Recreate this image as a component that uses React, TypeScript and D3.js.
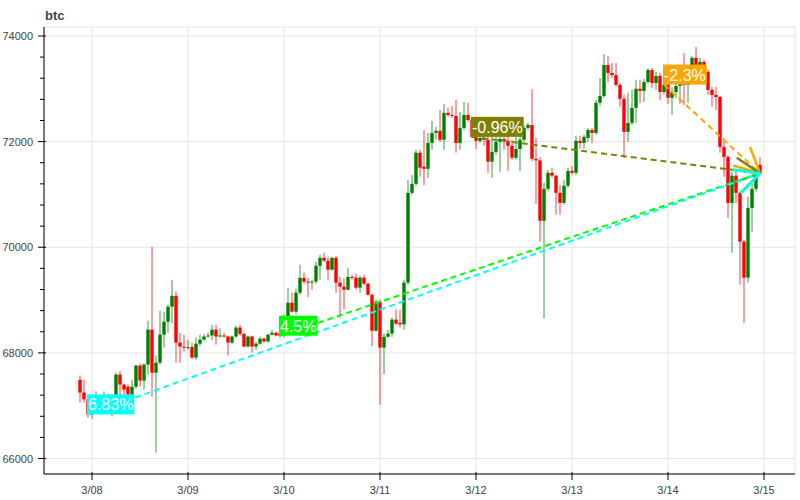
import React, { useEffect, useRef } from 'react';
import * as d3 from 'd3';

const title = 'btc';
const START = Date.UTC(2024, 2, 7, 21);
const HOUR = 3600000;

const opens = [
  67490, 67250, 67120, 66835, 66930, 67020, 66970, 67150, 67190, 67150,
  67590, 67400, 67360, 67210, 67360, 67760, 67475, 67780, 68440, 67625,
  67815, 68345, 68590, 68875, 69080, 68195, 68120, 68100, 68110, 67910,
  68175, 68250, 68310, 68330, 68440, 68310, 68330, 68310, 68195, 68310,
  68480, 68360, 68120, 68310, 68120, 68175, 68270, 68215, 68345, 68380,
  68380, 68325, 68685, 68950, 68780, 69140, 69420, 69350, 69330, 69350,
  69650, 69800, 69745, 69575, 69800, 69330, 69255, 69195, 69440, 69425,
  69235, 69425, 69310, 69100, 68420, 68970, 68100, 68305, 68365, 68630,
  68570, 68540, 69330, 71030, 71200, 71790, 71525, 71485, 71975, 72165,
  72205, 72035, 72545, 72505, 72485, 71975, 72260, 72505, 72410, 72090,
  72015, 72070, 72035, 71620, 71805, 71995, 72050, 72015, 71920, 71695,
  71860, 72035, 72260, 72315, 71675, 71645, 70500, 71105, 71410, 71355,
  71030, 70840, 71165, 71445, 71410, 72015, 71975, 72070, 72220, 72165,
  72735, 72865, 73450, 73300, 73260, 73075, 72810, 72185, 72355, 72640,
  73000, 72960, 73130, 73355, 73110, 73245, 72940, 73080, 72830, 72940,
  73055, 73130, 73075, 73260, 73585, 73450, 73510, 73320, 72980, 72885,
  72845, 71900, 71710, 70840, 71355, 71030, 70105, 69425, 70745, 71105,
  71560,
];

const highs = [
  67570, 67490, 67150, 67120, 67270, 67150, 67270, 67230, 67210, 67630,
  67650, 67420, 67400, 67490, 67770, 67800, 67800, 68610, 70010, 67950,
  68800, 68780, 68910, 69385, 69160, 68380, 68345, 68250, 68190, 68290,
  68345, 68360, 68380, 68535, 68535, 68460, 68380, 68330, 68330, 68515,
  68535, 68380, 68330, 68330, 68215, 68310, 68290, 68360, 68440, 68400,
  68420, 68725, 69235, 69140, 69215, 69670, 69520, 69420, 69385, 69725,
  69860, 69895, 69820, 69820, 69840, 69440, 69420, 69610, 69480, 69500,
  69460, 69480, 69330, 69120, 69005, 69005, 68365, 68440, 68665, 68820,
  68820, 69385, 71275, 71370, 71845, 71845, 72220, 72165, 72390, 72280,
  72600, 72715, 72640, 72680, 72790, 72560, 72750, 72735, 72470, 72220,
  72185, 72165, 72130, 72110, 72110, 72110, 72145, 72110, 72035, 72130,
  72185, 72300, 72355, 72995, 72070, 71710, 71220, 71465, 71505, 71370,
  71180, 71275, 71505, 71540, 72110, 72110, 72130, 72260, 72260, 72790,
  73205, 73660, 73620, 73490, 73490, 73110, 72885, 72925, 72980, 73170,
  73170, 73185, 73395, 73395, 73320, 73300, 73170, 73110, 73035, 73090,
  73205, 73680, 73355, 73620, 73790, 73585, 73545, 73355, 73035, 73035,
  72865, 72070, 71750, 71430, 71430, 71050, 70140, 70955, 71275, 71465,
  71710,
];

const lows = [
  67060, 67060, 66775, 66755, 66850, 66870, 66890, 66930, 66795, 67140,
  67135, 67120, 67130, 67190, 67320, 67360, 67305, 67590, 67170, 66115,
  67780, 68100, 68380, 68570, 67815, 67815, 68020, 68060, 67890, 67870,
  68135, 68230, 68290, 68250, 68155, 68290, 68290, 67950, 68175, 68290,
  68330, 68110, 68100, 68005, 68060, 68155, 68195, 68195, 68330, 68310,
  68290, 68290, 68650, 68760, 68740, 69100, 69310, 69060, 69195, 69310,
  69385, 69725, 69385, 69555, 69140, 68665, 68820, 69180, 69385, 69195,
  69140, 69290, 69085, 68120, 68400, 67020, 67590, 68290, 68305, 68535,
  68480, 68440, 69290, 70990, 71165, 71335, 71180, 71315, 71845, 72035,
  71995, 71845, 72470, 72450, 71790, 71845, 72220, 72375, 72070, 71860,
  71975, 71920, 71410, 71315, 71750, 71430, 71845, 71445, 71655, 71655,
  71445, 71995, 72220, 71635, 70825, 70105, 68650, 71070, 71315, 70615,
  70615, 70805, 71125, 71370, 71370, 71860, 71860, 71995, 71975, 72130,
  72680, 72830, 73130, 73205, 73035, 72660, 71695, 71995, 72315, 72355,
  72735, 72750, 73095, 73015, 72980, 72790, 72885, 72715, 72505, 72830,
  72715, 72695, 72735, 73170, 73395, 73355, 73245, 72885, 72660, 72600,
  71790, 71335, 70560, 69895, 70840, 69290, 68570, 69330, 70295, 71050,
  71370,
];

const closes = [
  67250, 67120, 66835, 66930, 67020, 66970, 67150, 67190, 67150, 67590,
  67400, 67305, 67210, 67360, 67760, 67475, 67780, 68440, 67625, 67815,
  68345, 68590, 68875, 69080, 68195, 68120, 68100, 68110, 67910, 68175,
  68250, 68310, 68330, 68440, 68310, 68330, 68310, 68195, 68310, 68480,
  68360, 68120, 68310, 68120, 68175, 68270, 68215, 68345, 68380, 68330,
  68325, 68685, 68950, 68780, 69140, 69420, 69350, 69330, 69350, 69650,
  69800, 69745, 69575, 69800, 69330, 69255, 69195, 69440, 69425, 69235,
  69425, 69310, 69100, 68420, 68970, 68100, 68305, 68365, 68630, 68555,
  68540, 69330, 71030, 71200, 71790, 71505, 71485, 71975, 72165, 72205,
  72035, 72545, 72505, 72485, 71975, 72260, 72505, 72410, 72090, 72015,
  72070, 72035, 71620, 71805, 71995, 72050, 72015, 71920, 71695, 71860,
  72035, 72260, 72315, 71675, 71645, 70500, 71105, 71410, 71355, 71030,
  70840, 71165, 71445, 71410, 72015, 71975, 72090, 72220, 72165, 72735,
  72865, 73450, 73300, 73260, 73075, 72810, 72185, 72355, 72640, 73000,
  72960, 73130, 73355, 73110, 73245, 72940, 73080, 72830, 72940, 73055,
  73130, 73075, 73260, 73585, 73450, 73510, 73320, 72980, 72885, 72845,
  71900, 71710, 70840, 71355, 71030, 70105, 69425, 70745, 71105, 71390,
  71400,
];

// change markers (hour index of the reference candle), drawn in this order
const markIdx = [146, 98, 50, 2];
const markLabels = ['-2.3%', '-0.96%', '4.5%', '6.83%'];
const markColors = ['#ffa500', '#808000', '#00ff00', '#00ffff'];

const yTicks = [66000, 68000, 70000, 72000, 74000];

const FONT = '"Liberation Sans", Arial, Helvetica, sans-serif';

export default function App() {
  const ref = useRef<SVGSVGElement>(null);

  useEffect(() => {
    document.body.style.margin = '0';
    const svg = d3.select(ref.current as SVGSVGElement);
    svg.selectAll('*').remove();

    const L = 44, R = 795, T = 27, B = 474;
    const x = d3
      .scaleUtc()
      .domain([Date.UTC(2024, 2, 7, 12), Date.UTC(2024, 2, 15, 7, 45)])
      .range([L, R]);
    const y = d3.scaleLinear().domain([65707, 74170]).range([B, T]);

    const times = closes.map((_, i) => new Date(START + i * HOUR));
    const dayTicks = d3.utcDay.range(new Date(Date.UTC(2024, 2, 8)), new Date(Date.UTC(2024, 2, 15, 1)));
    const fmt = d3.utcFormat('%-m/%d');

    // grid
    const grid = svg.append('g');
    grid
      .selectAll('line.v')
      .data(dayTicks)
      .join('line')
      .attr('x1', (d) => x(d))
      .attr('x2', (d) => x(d))
      .attr('y1', T)
      .attr('y2', B)
      .attr('stroke', '#e5e5e5')
      .attr('stroke-width', 1);
    grid
      .selectAll('line.h')
      .data(yTicks)
      .join('line')
      .attr('x1', L)
      .attr('x2', R)
      .attr('y1', (d) => y(d))
      .attr('y2', (d) => y(d))
      .attr('stroke', '#e5e5e5')
      .attr('stroke-width', 1);

    svg
      .append('rect')
      .attr('x', L)
      .attr('y', T)
      .attr('width', R - L)
      .attr('height', B - T)
      .attr('fill', 'none')
      .attr('stroke', '#e5e5e5');

    // candles
    svg
      .append('clipPath')
      .attr('id', 'plotclip')
      .append('rect')
      .attr('x', L)
      .attr('y', T)
      .attr('width', R - L)
      .attr('height', B - T);
    const cg = svg.append('g').attr('clip-path', 'url(#plotclip)');
    const idx = d3.range(closes.length);
    const col = (i: number) => (closes[i] >= opens[i] ? '#008000' : '#ff0000');
    cg.selectAll('line.wick')
      .data(idx)
      .join('line')
      .attr('x1', (i) => x(times[i]))
      .attr('x2', (i) => x(times[i]))
      .attr('y1', (i) => y(highs[i]))
      .attr('y2', (i) => y(lows[i]))
      .attr('stroke', (i) => col(i))
      .attr('stroke-opacity', 0.55)
      .attr('stroke-width', 1.4);
    const bw = 3.4;
    cg.selectAll('rect.body')
      .data(idx)
      .join('rect')
      .attr('x', (i) => x(times[i]) - bw / 2)
      .attr('width', bw)
      .attr('y', (i) => y(Math.max(opens[i], closes[i])))
      .attr('height', (i) => Math.max(1, Math.abs(y(opens[i]) - y(closes[i]))))
      .attr('fill', (i) => col(i));

    // arrows
    const last = closes.length - 1;
    const tx = x(times[last]);
    const ty = y(closes[last]);
    const ag = svg.append('g');
    const headLen = 25 * Math.sqrt(1.25);
    const phi = Math.atan(0.5);
    markIdx.forEach((mi, k) => {
      const sx = x(times[mi]);
      const sy = y(closes[mi]);
      ag.append('line')
        .attr('x1', sx)
        .attr('y1', sy)
        .attr('x2', tx)
        .attr('y2', ty)
        .attr('stroke', markColors[k])
        .attr('stroke-width', 2)
        .attr('stroke-dasharray', '6,4');
      const back = Math.atan2(sy - ty, sx - tx);
      [-phi, phi].forEach((p) => {
        ag.append('line')
          .attr('x1', tx)
          .attr('y1', ty)
          .attr('x2', tx + headLen * Math.cos(back + p))
          .attr('y2', ty + headLen * Math.sin(back + p))
          .attr('stroke', markColors[k])
          .attr('stroke-width', 2.5);
      });
    });

    // labels
    const lg = svg.append('g');
    markIdx.forEach((mi, k) => {
      const sx = x(times[mi]);
      const sy = y(closes[mi]);
      const g = lg.append('g');
      const rect = g.append('rect').attr('fill', markColors[k]);
      const t = g
        .append('text')
        .attr('x', sx)
        .attr('y', sy - 4)
        .attr('font-family', FONT)
        .attr('font-size', 16)
        .attr('fill', '#ffffff')
        .text(markLabels[k]);
      const bb = (t.node() as SVGTextElement).getBBox();
      rect
        .attr('x', bb.x - 1)
        .attr('y', sy - 20)
        .attr('width', bb.width + 2)
        .attr('height', 20);
    });

    // axes
    const ax = svg.append('g').attr('font-family', FONT).attr('font-size', 11).attr('fill', '#444');
    ax.append('line').attr('x1', L).attr('x2', L).attr('y1', T).attr('y2', B).attr('stroke', '#000');
    ax.append('line').attr('x1', L).attr('x2', R).attr('y1', B).attr('y2', B).attr('stroke', '#000');
    const minor = d3.range(66000, 74001, 400).filter((v) => v % 2000 !== 0 && y(v) >= T && y(v) <= B);
    ax.selectAll('line.ymin')
      .data(minor)
      .join('line')
      .attr('x1', L - 4)
      .attr('x2', L)
      .attr('y1', (d) => y(d))
      .attr('y2', (d) => y(d))
      .attr('stroke', '#000');
    ax.selectAll('line.ymaj')
      .data(yTicks)
      .join('line')
      .attr('x1', L - 6)
      .attr('x2', L + 2)
      .attr('y1', (d) => y(d))
      .attr('y2', (d) => y(d))
      .attr('stroke', '#000');
    ax.selectAll('text.ylab')
      .data(yTicks)
      .join('text')
      .attr('x', L - 11)
      .attr('y', (d) => y(d) + 4)
      .attr('text-anchor', 'end')
      .text((d) => String(d));
    ax.selectAll('line.xmaj')
      .data(dayTicks)
      .join('line')
      .attr('x1', (d) => x(d))
      .attr('x2', (d) => x(d))
      .attr('y1', B - 2)
      .attr('y2', B + 6)
      .attr('stroke', '#000');
    ax.selectAll('text.xlab')
      .data(dayTicks)
      .join('text')
      .attr('x', (d) => x(d))
      .attr('y', B + 20)
      .attr('text-anchor', 'middle')
      .text((d) => fmt(d));

    svg
      .append('text')
      .attr('x', L + 1)
      .attr('y', 20)
      .attr('font-family', FONT)
      .attr('font-size', 13)
      .attr('font-weight', 'bold')
      .attr('fill', '#444')
      .text(title);
  }, []);

  return (
    <svg
      ref={ref}
      width={800}
      height={500}
      style={{ position: 'absolute', left: 0, top: 0, background: '#fff' }}
    />
  );
}
